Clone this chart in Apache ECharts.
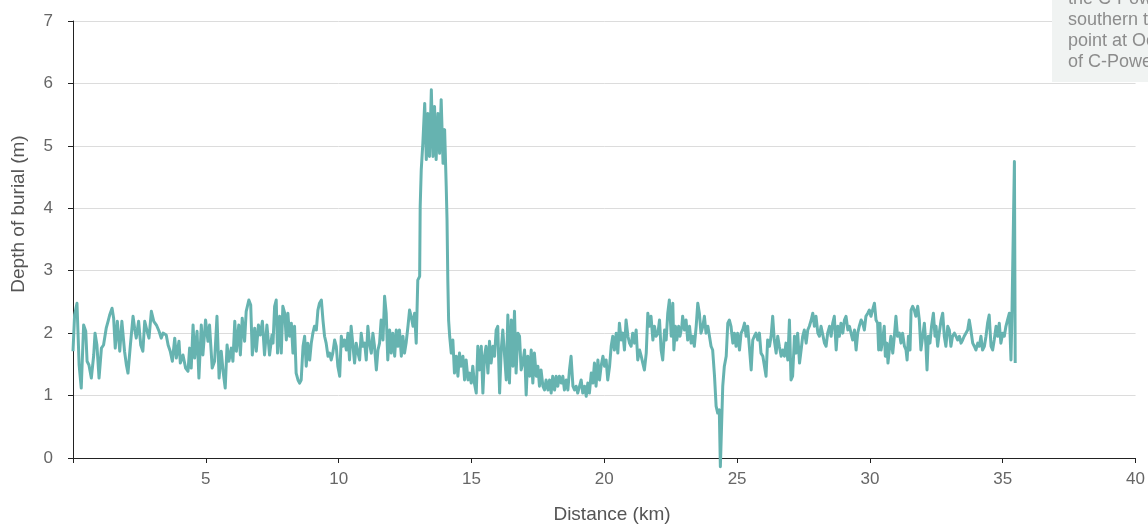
<!DOCTYPE html>
<html><head><meta charset="utf-8">
<script src="https://cdn.jsdelivr.net/npm/echarts@6/dist/echarts.min.js"></script>
<style>html,body{margin:0;padding:0;background:#fff}#c{width:1148px;height:524px}</style>
</head><body><div id="c"></div>
<script>
// Distance along the cable (km)
const distanceKm = [
  0.00,0.06,0.15,0.23,0.31,0.40,0.48,0.53,0.60,0.69,0.78,0.83,0.90,0.98,1.07,1.15,1.25,1.32,1.38,1.47,
  1.53,1.59,1.67,1.76,1.84,1.94,2.01,2.07,2.16,2.26,2.32,2.38,2.47,2.55,2.63,2.70,2.79,2.86,2.95,3.04,
  3.14,3.24,3.32,3.39,3.51,3.58,3.66,3.74,3.83,3.89,3.99,4.04,4.14,4.24,4.33,4.39,4.45,4.52,4.58,4.67,
  4.74,4.83,4.89,4.99,5.08,5.14,5.24,5.33,5.42,5.50,5.58,5.65,5.73,5.80,5.87,5.96,6.02,6.09,6.15,6.24,
  6.30,6.37,6.46,6.52,6.62,6.69,6.75,6.84,6.90,6.98,7.05,7.13,7.21,7.30,7.40,7.49,
  7.53,7.59,7.65,7.70,7.78,7.84,7.90,7.97,8.03,8.09,8.15,8.22,8.28,8.34,8.40,8.47,8.53,8.59,8.66,8.72,
  8.78,8.84,8.91,8.97,9.03,9.09,9.16,9.22,9.28,9.35,9.41,9.47,9.53,9.60,9.66,9.72,9.78,9.85,9.91,9.97,
  10.04,10.10,10.16,10.22,10.29,10.35,10.41,10.47,10.54,10.60,10.66,10.73,10.79,10.85,10.91,10.98,11.04,11.10,11.16,11.23,
  11.29,11.35,11.42,11.48,11.54,11.60,11.67,11.73,11.79,11.85,11.92,11.98,12.04,12.11,12.17,12.23,12.29,12.36,12.42,12.48,
  12.54,12.61,12.67,12.73,12.80,12.86,12.92,12.98,13.05,13.07,13.11,13.17,13.24,13.30,13.36,13.42,13.49,13.55,13.61,13.67,
  13.74,13.80,13.86,13.93,13.99,14.05,14.08,14.11,14.14,14.18,14.24,14.30,14.36,14.43,14.49,14.55,14.61,14.68,14.74,14.80,
  14.87,14.93,14.99,
  15.05,15.11,15.18,15.24,15.30,15.37,15.43,15.49,15.55,15.62,15.68,15.74,15.81,15.87,15.93,15.99,16.06,16.12,16.18,16.24,
  16.31,16.37,16.43,16.50,16.56,16.62,16.68,16.75,16.81,16.87,16.93,17.00,17.06,17.12,17.19,17.25,17.31,17.37,17.44,17.50,
  17.56,17.62,17.69,17.75,17.81,17.88,17.94,18.00,18.06,18.13,18.19,18.25,18.31,18.38,18.44,18.50,18.57,18.63,18.69,18.75,
  18.82,18.88,18.94,19.00,19.07,19.13,19.19,19.26,19.32,19.38,19.44,19.51,19.57,19.63,19.69,19.76,19.82,19.88,19.95,20.01,
  20.07,20.13,20.20,20.26,20.32,20.38,20.45,20.51,20.57,20.64,20.70,20.76,20.82,20.89,20.95,21.01,21.07,21.14,21.20,21.26,
  21.33,21.39,21.45,21.51,21.58,21.64,21.70,21.76,21.83,21.89,21.95,22.02,22.08,22.14,22.20,22.27,22.33,22.39,22.45,22.52,
  22.58,22.62,22.68,22.73,22.80,22.85,22.92,22.95,23.02,23.08,23.14,23.21,23.27,23.33,23.39,23.46,23.52,23.58,23.64,23.71,
  23.77,23.83,23.90,23.96,24.02,24.08,24.15,24.21,24.27,24.33,24.37,24.41,24.46,24.52,24.59,24.65,24.71,24.77,24.84,24.90,
  24.96,25.02,25.09,25.15,25.21,25.28,25.34,25.40,25.46,25.53,25.59,25.65,25.71,25.78,25.84,25.90,25.97,26.03,26.09,26.15,
  26.22,26.28,26.34,26.40,26.47,26.53,26.59,26.66,26.72,26.78,26.84,26.91,26.97,27.03,27.09,27.16,27.22,27.28,27.35,27.41,
  27.47,27.53,27.60,27.66,27.72,27.79,27.85,27.91,27.97,28.04,28.10,28.16,28.22,28.29,28.35,28.41,28.48,28.54,28.60,28.66,
  28.73,28.79,28.85,28.91,28.98,29.04,29.10,29.17,29.23,29.29,29.35,29.42,29.48,29.54,29.60,29.67,29.73,29.79,29.85,29.92,
  29.98,30.04,
  30.10,30.17,30.23,30.29,30.33,30.38,30.42,30.48,30.54,30.58,30.64,30.68,30.73,30.79,30.86,30.92,30.98,31.04,31.11,31.17,
  31.23,31.30,31.36,31.40,31.45,31.51,31.55,31.61,31.67,31.73,31.80,31.86,31.92,31.99,32.05,32.11,32.15,32.20,32.26,32.32,
  32.39,32.45,32.49,32.55,32.61,32.68,32.74,32.80,32.86,32.93,32.99,33.05,33.11,33.18,33.24,33.30,33.37,33.43,33.49,33.55,
  33.62,33.68,33.74,33.80,33.87,33.93,33.99,34.06,34.12,34.18,34.24,34.31,34.37,34.43,34.49,34.56,34.62,34.68,34.75,34.81,
  34.87,34.93,35.00,35.06,35.12,35.18,35.25,35.31,35.35,35.40,35.44,35.47
];
// Depth of burial (m)
const depthM = [
  1.71,2.29,2.48,1.49,1.12,2.13,2.03,1.55,1.49,1.28,1.65,2.00,1.81,1.28,1.76,1.81,2.08,2.19,2.29,2.40,
  2.24,1.76,2.19,1.71,2.19,1.71,1.49,1.36,1.81,2.27,2.08,1.92,2.19,1.81,1.71,2.19,2.03,1.92,2.35,2.19,
  2.13,2.03,1.92,2.00,1.97,1.81,1.71,1.55,1.92,1.60,1.87,1.52,1.65,1.44,1.39,1.76,1.44,2.13,1.60,2.03,
  1.28,2.13,1.65,2.21,1.87,2.13,1.44,1.55,2.27,1.28,1.71,1.39,1.12,1.81,1.55,1.76,1.55,2.19,1.71,2.13,
  1.65,2.24,1.87,2.35,2.53,2.45,1.65,2.08,1.71,2.13,1.97,2.19,1.65,2.13,1.65,1.97,
  1.84,2.43,2.53,1.68,2.27,1.68,2.43,2.32,1.89,2.32,1.95,2.16,1.68,2.11,1.36,1.25,1.20,1.25,1.79,1.95,
  1.47,1.84,1.57,1.84,2.00,2.11,2.05,2.37,2.48,2.53,2.21,1.95,1.84,1.63,1.68,1.57,1.68,1.89,1.79,1.47,
  1.31,1.95,1.79,1.89,1.73,2.00,1.57,2.11,1.79,1.52,1.84,1.68,1.57,2.00,1.79,1.84,1.57,2.11,1.84,1.68,
  2.00,1.79,1.41,1.73,1.84,2.21,1.89,2.59,2.32,1.57,2.05,1.68,2.00,1.63,2.05,1.79,2.05,1.63,1.95,1.68,
  1.84,2.11,2.37,2.27,2.11,2.32,1.84,2.85,2.91,4.03,4.62,5.04,5.68,4.78,5.52,4.83,5.90,4.83,5.63,4.78,
  5.52,4.88,5.74,4.72,5.26,4.35,3.82,2.85,2.21,1.95,1.68,1.89,1.36,1.63,1.31,1.68,1.47,1.63,1.25,1.57,
  1.25,1.36,1.20,
  1.47,1.20,1.04,1.79,1.41,1.79,1.04,1.63,1.79,1.36,1.87,1.52,1.79,1.63,2.05,2.11,1.04,1.73,2.05,2.08,
  1.25,2.29,1.20,2.21,1.47,2.35,1.36,2.00,1.95,1.41,1.52,1.73,1.01,1.63,1.31,1.73,1.20,1.68,1.31,1.47,
  1.15,1.41,1.15,1.09,1.25,1.09,1.25,1.04,1.31,1.09,1.31,1.15,1.31,1.20,1.31,1.09,1.25,1.09,1.41,1.63,
  1.15,1.09,1.15,1.04,1.15,1.25,1.04,1.15,0.99,1.20,1.04,1.36,1.20,1.52,1.15,1.57,1.25,1.47,1.63,1.47,
  1.57,1.25,1.47,1.79,1.95,1.73,2.00,1.68,2.16,1.89,2.00,1.73,2.21,1.95,1.84,1.79,2.00,1.84,2.05,1.57,
  1.73,1.63,1.52,1.41,1.68,2.32,2.11,2.27,1.89,2.11,1.95,2.00,2.21,1.73,1.57,2.05,1.89,2.32,2.53,1.95,
  2.48,1.73,2.11,1.89,2.11,1.95,2.11,2.27,2.05,2.21,1.89,2.11,1.84,1.95,1.79,2.11,2.48,2.32,2.00,2.11,
  2.27,2.00,2.11,1.95,1.79,1.73,1.31,0.83,0.72,0.77,-0.14,-0.14,1.15,1.47,1.63,2.16,2.21,2.11,1.84,2.00,
  1.79,2.00,1.73,2.00,2.05,2.16,1.95,2.11,1.79,1.41,1.89,1.95,2.00,1.89,2.00,1.68,1.63,1.47,1.31,1.89,
  1.79,1.95,2.27,1.89,1.68,1.95,1.79,1.63,1.73,1.63,1.84,1.57,2.21,1.25,1.31,1.95,1.68,2.00,1.52,1.73,
  1.95,2.05,1.84,2.05,2.11,2.21,2.32,2.11,2.27,2.00,1.95,2.11,2.11,1.84,1.79,2.00,2.11,1.95,2.16,2.27,
  1.73,2.11,1.95,2.16,2.00,2.21,2.27,2.05,2.11,2.00,1.89,2.05,1.73,2.00,2.11,2.21,2.16,2.05,2.27,2.32,
  2.37,2.27,
  2.37,2.48,2.21,2.16,1.73,2.16,1.73,1.89,2.11,1.63,1.84,1.52,1.73,1.95,1.68,1.95,2.27,1.95,2.00,1.84,
  2.00,1.79,1.73,1.57,1.95,1.73,2.37,2.43,2.37,2.27,2.43,2.21,1.73,1.73,2.16,1.79,1.41,1.95,1.84,2.11,
  2.32,1.95,2.11,1.79,2.00,2.21,2.32,1.95,1.79,2.11,2.05,1.79,1.95,2.00,1.95,1.89,1.95,1.84,1.89,1.95,
  1.95,2.05,2.21,2.05,1.84,1.79,1.73,1.84,1.79,1.95,1.73,1.79,1.95,2.16,2.29,1.79,1.73,1.89,2.11,1.95,
  2.16,1.84,2.00,1.95,2.11,2.21,2.32,1.57,2.37,2.37,4.75,1.52
];
const xTickStep = 5;
const xMax = 40;
const yMax = 7;
const xAxisTitle = 'Distance (km)';
const yAxisTitle = 'Depth of burial (m)';
const noteLines = ['the C-Power', 'southern tip', 'point at Oostende', 'of C-Power'];

const points = depthM.map((v, i) => [distanceKm[i], v]);

const chart = echarts.init(document.getElementById('c'), null, {renderer: 'canvas'});
const FONT = 'Liberation Sans, Arial, sans-serif';
chart.setOption({
  animation: false,
  grid: {left: 73, right: 12, top: 21, bottom: 66, containLabel: false},
  xAxis: {
    type: 'value', min: 0, max: xMax, interval: xTickStep,
    axisLine: {show: true, lineStyle: {color: '#222', width: 1}},
    axisTick: {show: true, length: 5, lineStyle: {color: '#222'}},
    axisLabel: {margin: 13, color: '#666', fontSize: 17, fontFamily: FONT,
      formatter: v => v === 0 ? '' : String(v)},
    splitLine: {show: false}
  },
  yAxis: {
    type: 'value', min: 0, max: yMax, interval: 1,
    axisLine: {show: true, lineStyle: {color: '#222', width: 1}},
    axisTick: {show: true, length: 5, lineStyle: {color: '#222'}},
    axisLabel: {margin: 20, color: '#666', fontSize: 17, fontFamily: FONT},
    splitLine: {show: true, lineStyle: {color: '#dcdcdc', width: 1}}
  },
  series: [{
    type: 'line', data: points, showSymbol: false, clip: false,
    lineStyle: {color: '#66b3b0', width: 3, join: 'round'},
    itemStyle: {color: '#66b3b0'}
  }],
  graphic: [
    {type: 'text', x: 612, y: 515, style: {text: xAxisTitle, fill: '#555', font: '19px ' + FONT, textAlign: 'center', textVerticalAlign: 'middle'}},
    {type: 'text', x: 19, y: 214, rotation: Math.PI / 2, style: {text: yAxisTitle, fill: '#555', font: '19px ' + FONT, textAlign: 'center', textVerticalAlign: 'middle'}},
    {type: 'rect', z: 10, shape: {x: 1052, y: 0, width: 100, height: 82}, style: {fill: '#f0f3f2'}},
    {type: 'group', z: 11, children: noteLines.map((t, i) => ({
      type: 'text', x: 1068, y: -1 + i * 21, z: 11,
      style: {text: t, fill: '#8c8c8c', font: '18px ' + FONT, textAlign: 'left', textVerticalAlign: 'middle'}
    }))}
  ]
});
</script></body></html>
